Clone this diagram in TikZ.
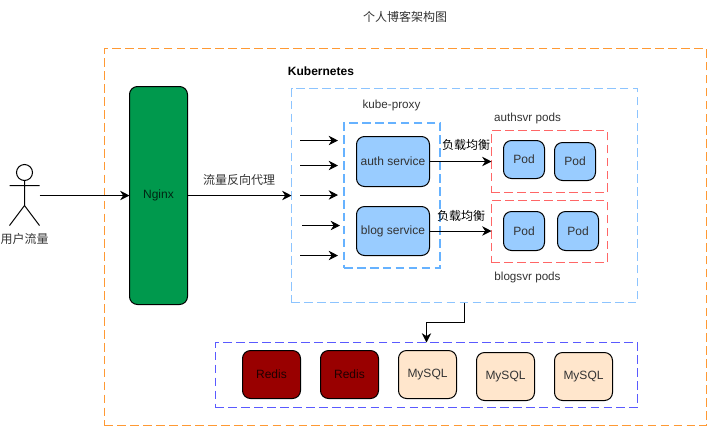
\documentclass[tikz,border=0pt]{standalone}
\usepackage{fontspec}
\setmainfont{Liberation Sans}
\newfontfamily\cjk{Noto Sans CJK SC}
\usetikzlibrary{arrows.meta,calc}
\definecolor{frameorange}{RGB}{255,153,51}
\definecolor{frameblue}{RGB}{102,178,255}
\definecolor{framesky}{RGB}{140,196,255}
\definecolor{framered}{RGB}{255,102,102}
\definecolor{frameindigo}{RGB}{90,90,255}
\definecolor{svc}{HTML}{99CCFF}
\definecolor{ngx}{HTML}{00994D}
\definecolor{rds}{HTML}{990000}
\definecolor{sql}{HTML}{FFE6CC}
\definecolor{txt}{HTML}{333333}
\tikzset{
  px/.style={line width=0.75pt},
  frame/.style={line width=0.75pt,dash pattern=on 6.5pt off 3.2pt,inner sep=0pt,outer sep=0pt},
  box/.style={draw=black,px,rounded corners=6pt,inner sep=0pt,outer sep=0pt,text=txt,font=\fontsize{9}{11}\selectfont,align=center},
  pod/.style={box,fill=svc},
  db/.style={box,fill=sql},
  rd/.style={box,fill=rds,text=black!80!rds},
  lab/.style={inner sep=0pt,text=txt,font=\fontsize{8.75}{10}\selectfont},
  clab/.style={inner sep=0pt,text=txt,font=\cjk\fontsize{9}{11}\selectfont},
  flow/.style={draw=black,px,-{Stealth[length=7pt,width=7pt]}},
}
% style, name, left, top, right, bottom, text
\newcommand{\placebox}[7]{%
  \pgfmathsetmacro{\bw}{(#5-#3)*0.75}\pgfmathsetmacro{\bh}{(#6-#4)*0.75}%
  \node[#1,minimum width=\bw pt,minimum height=\bh pt] (#2) at ({(#3+#5)/2},{(#4+#6)/2}) {#7};}
\begin{document}
\begin{tikzpicture}[x=0.75pt,y=-0.75pt]
\useasboundingbox (0,0) rectangle (707,426);
% frames
\placebox{frame,draw=frameorange}{outer}{104.5}{48.5}{706.5}{425.5}{}
\placebox{frame,draw=framesky,line width=1pt}{kube}{291.5}{88.5}{637.5}{302.5}{}
\placebox{frame,draw=frameblue,line width=1.2pt}{proxy}{344}{123}{440}{268}{}
\placebox{frame,draw=framered}{authpods}{491.5}{130.5}{607.5}{192.5}{}
\placebox{frame,draw=framered}{blogpods}{491.5}{200.5}{607.5}{262.5}{}
\placebox{frame,draw=frameindigo}{store}{215.5}{342.5}{637.5}{407.5}{}
% nginx
\placebox{box,fill=ngx,text=black!75!ngx}{nginx}{129.5}{86.5}{187.5}{304.5}{Nginx}
% services
\placebox{pod}{auth}{356.5}{136.5}{429.5}{186.5}{auth service}
\placebox{pod}{blog}{356.5}{206.5}{429.5}{255.5}{blog service}
% pods
\placebox{pod}{p1}{503.5}{140.5}{544.5}{178.5}{Pod}
\placebox{pod}{p2}{554.5}{142.5}{595.5}{180.5}{Pod}
\placebox{pod}{p3}{503.5}{211.5}{544.5}{250.5}{Pod}
\placebox{pod}{p4}{557.5}{211.5}{598.5}{250.5}{Pod}
% stores
\placebox{rd}{r1}{242.5}{350.5}{300.5}{398.5}{Redis}
\placebox{rd}{r2}{320.5}{350.5}{378.5}{398.5}{Redis}
\placebox{db}{m1}{398.5}{350.5}{456.5}{398.5}{MySQL}
\placebox{db}{m2}{476.5}{352.5}{534.5}{400.5}{MySQL}
\placebox{db}{m3}{554.5}{352.5}{612.5}{400.5}{MySQL}
% actor
\coordinate (head) at (24.5,172.5);
\coordinate (neck) at (24.5,180.5);
\coordinate (hip) at (24.5,205.5);
\coordinate (armL) at (9.5,185.5);
\coordinate (armR) at (39.5,185.5);
\coordinate (legL) at (9.5,225.5);
\coordinate (legR) at (39.5,225.5);
\coordinate (user) at (39.5,195.5);
\draw[px] (head) circle (6pt);
\draw[px] (neck) -- (hip) (armL) -- (armR) (legL) -- (hip) -- (legR);
% flows
\draw[flow] (user) -- (user -| nginx.west);
\draw[flow] (nginx.east |- user) -- (kube.west |- user);
\foreach \n/\xa/\xb/\yy in {a/300/338/140.5,b/300/338/165.5,c/300/338/195,d/302/340/225.5,e/300/338/255.5}{
  \coordinate (s\n) at (\xa,\yy);
  \coordinate (t\n) at (\xb,\yy);
  \draw[flow] (s\n) -- (t\n);
}
\draw[flow] (auth.east) -- (authpods.west |- auth.east);
\draw[flow] (blog.east) -- (blogpods.west |- blog.east);
\coordinate (drop) at (464.5,302.5);
\coordinate (stin) at (426.5,342.5);
\draw[flow] (drop) -- (464.5,322.5) -- (426.5,322.5) -- (stin);
% labels
\node[clab] (title) at (405,16.5) {个人博客架构图};
\node[inner sep=0pt,font=\bfseries\fontsize{9}{10}\selectfont] (k8s) at (321,71) {Kubernetes};
\node[lab] (kp) at (391.5,105) {kube-proxy};
\node[lab] (ap) at (527.5,118) {authsvr pods};
\node[lab] (bp) at (527.5,277) {blogsvr pods};
\node[clab] (ulab) at (24.5,238.5) {用户流量};
\node[clab] (rev) at (239,180) {流量反向代理};
\node[clab,text=black] (lb1) at (466,145) {负载均衡};
\node[clab,text=black] (lb2) at (461,216) {负载均衡};
\end{tikzpicture}
\end{document}
